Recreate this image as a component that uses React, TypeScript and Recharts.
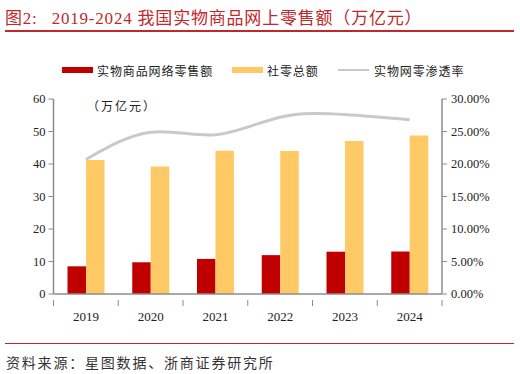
import { ComposedChart, Bar, Line, XAxis, YAxis } from "recharts";

const years = ["2019", "2020", "2021", "2022", "2023", "2024"];
const onlineSales = [8.52, 9.76, 10.8, 11.96, 13.02, 13.08];
const totalRetail = [41.2, 39.2, 44.1, 44.0, 47.1, 48.8];
const penetration = [0.207, 0.249, 0.245, 0.272, 0.276, 0.268];
const leftTicks = [0, 10, 20, 30, 40, 50, 60];
const rightTicks = [0, 0.05, 0.1, 0.15, 0.2, 0.25, 0.3];

const RED = "#C00000";
const YELLOW = "#FFCA66";
const GRAY_LINE = "#C9C9C9";
const AXIS = "#8C8C8C";
const SERIF = "'Liberation Serif', 'Noto Sans CJK SC', serif";
const CJK = "'Noto Sans CJK SC', sans-serif";

const data = years.map((year, i) => ({
  year,
  online: onlineSales[i],
  total: totalRetail[i],
  rate: penetration[i],
}));

const YearTick = (props: any) => {
  const { x, y, payload, index } = props;
  const half = payload?.offset || 32.4;
  return (
    <g>
      <line x1={x - half} x2={x - half} y1={y - 2} y2={y + 4} stroke={AXIS} />
      {index === years.length - 1 && (
        <line x1={x + half} x2={x + half} y1={y - 2} y2={y + 4} stroke={AXIS} />
      )}
      <text x={x} y={y + 19} textAnchor="middle" fontFamily={SERIF} fontSize={13} fill="#222">
        {payload.value}
      </text>
    </g>
  );
};

const legendItems = [
  { label: "实物商品网络零售额", color: RED, h: 6, x: 62, tx: 97 },
  { label: "社零总额", color: YELLOW, h: 6, x: 232, tx: 267 },
  { label: "实物网零渗透率", color: GRAY_LINE, h: 2.5, x: 338, tx: 374 },
];

export default function App() {
  return (
    <div style={{ position: "absolute", left: 0, top: 0, width: 520, height: 374, background: "#fff" }}>
      <div
        style={{
          position: "absolute",
          left: 5,
          top: 4,
          fontFamily: SERIF,
          fontSize: 17,
          letterSpacing: 0.8,
          color: "#C0282B",
          whiteSpace: "nowrap",
        }}
      >
        <span>图2:</span>
        <span style={{ marginLeft: 14 }}>2019-2024 我国实物商品网上零售额（万亿元）</span>
      </div>
      <div style={{ position: "absolute", left: 5, top: 30, width: 509, height: 1.5, background: "#C0282B" }} />

      {legendItems.map((it) => (
        <div key={it.label}>
          <div
            style={{
              position: "absolute",
              left: it.x,
              top: 70 - it.h / 2,
              width: 31,
              height: it.h,
              background: it.color,
            }}
          />
          <div
            style={{
              position: "absolute",
              left: it.tx,
              top: 62,
              fontFamily: CJK,
              fontSize: 12,
              letterSpacing: 0.9,
              color: "#222",
              whiteSpace: "nowrap",
            }}
          >
            {it.label}
          </div>
        </div>
      ))}

      <div
        style={{
          position: "absolute",
          left: 87,
          top: 97,
          fontFamily: CJK,
          fontSize: 12,
          letterSpacing: 2,
          color: "#222",
          whiteSpace: "nowrap",
        }}
      >
        （万亿元）
      </div>

      <ComposedChart
        width={520}
        height={374}
        data={data}
        margin={{ top: 99, right: 18, bottom: 50, left: 23.5 }}
        barGap={0}
        barSize={18.5}
      >
        <XAxis
          dataKey="year"
          tickLine={false}
          axisLine={{ stroke: AXIS, strokeWidth: 1.5 }}
          tick={<YearTick />}
          height={30}
          interval={0}
        />
        <YAxis
          yAxisId="left"
          domain={[0, 60]}
          ticks={leftTicks}
          width={30}
          axisLine={{ stroke: AXIS, strokeWidth: 1.5 }}
          tickLine={{ stroke: AXIS }}
          tickSize={5}
          tick={{ fontFamily: SERIF, fontSize: 12.5, fill: "#222" }}
          tickMargin={3}
        />
        <YAxis
          yAxisId="right"
          orientation="right"
          domain={[0, 0.3]}
          ticks={rightTicks}
          width={60}
          axisLine={{ stroke: AXIS, strokeWidth: 1.5 }}
          tickLine={{ stroke: AXIS }}
          tickSize={5}
          tick={{ fontFamily: SERIF, fontSize: 12.5, fill: "#222", textAnchor: "start" }}
          tickMargin={4}
          tickFormatter={(v: number) => (v * 100).toFixed(2) + "%"}
        />
        <Bar yAxisId="left" dataKey="online" fill={RED} isAnimationActive={false} />
        <Bar yAxisId="left" dataKey="total" fill={YELLOW} isAnimationActive={false} />
        <Line
          yAxisId="right"
          dataKey="rate"
          type="natural"
          stroke={GRAY_LINE}
          strokeWidth={3}
          dot={false}
          isAnimationActive={false}
        />
      </ComposedChart>

      <div style={{ position: "absolute", left: 5, top: 342.5, width: 509, height: 1.5, background: "#C0282B" }} />
      <div
        style={{
          position: "absolute",
          left: 6,
          top: 352,
          fontFamily: CJK,
          fontSize: 14,
          letterSpacing: 1.8,
          color: "#333",
          whiteSpace: "nowrap",
        }}
      >
        资料来源：星图数据、浙商证券研究所
      </div>
    </div>
  );
}
